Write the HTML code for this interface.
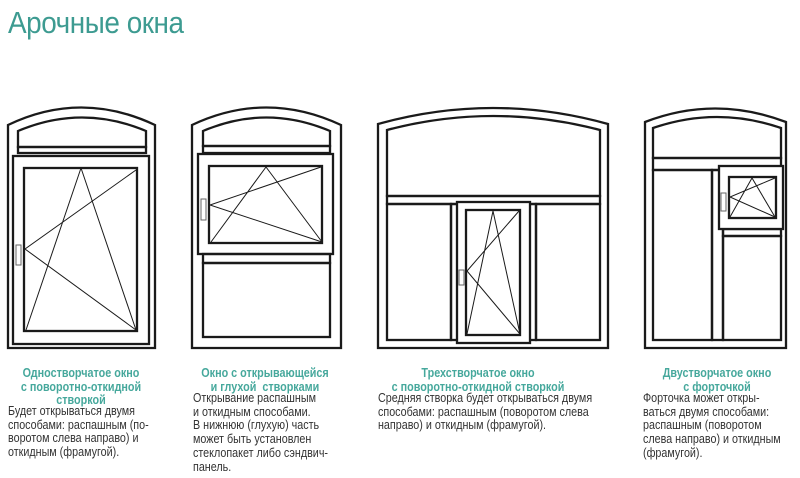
<!DOCTYPE html>
<html><head><meta charset="utf-8"><style>
html,body{margin:0;padding:0;background:#fff;width:800px;height:478px;overflow:hidden;position:relative}
.t{position:absolute;font-family:"Liberation Sans",sans-serif;white-space:nowrap}
.title{left:8px;top:5px;font-size:31px;color:#3d9b91;letter-spacing:-0.5px;transform:scaleX(0.9);transform-origin:0 0}
.h{color:#46a89c;font-weight:bold;font-size:13px;line-height:13.5px;text-align:center;transform:scaleX(0.83);transform-origin:50% 0}
.b{color:#333;font-size:12.5px;line-height:13.7px;transform:scaleX(0.86);transform-origin:0 0}
svg{position:absolute;left:0;top:0}
</style></head><body>
<div class="t title">Арочные окна</div>
<svg width="800" height="478" viewBox="0 0 800 478" fill="none" stroke="#1a1a1a" stroke-width="2.3">
<!-- Window 1 -->
<path d="M8 348 V125 Q81 90 155 125 V348 Z"/>
<path d="M18 147 V131 Q82 104 146 131 V147 Z"/>
<rect x="18" y="147" width="128" height="6"/>
<rect x="13" y="156" width="136" height="188"/>
<rect x="24" y="168" width="113" height="163"/>
<rect x="16" y="245" width="5" height="20" stroke-width="1" stroke="#666"/>
<g stroke-width="1">
<path d="M81 168 L26 330 M81 168 L136 330 M136 170 L25 249 L136 330"/>
</g>
<!-- Window 2 -->
<path d="M192 348 V125 Q266 90 341 125 V348 Z"/>
<path d="M203 146 V131 Q266 104 330 131 V146 Z"/>
<rect x="203" y="146" width="127" height="7"/>
<rect x="198" y="154" width="135" height="100"/>
<rect x="209" y="166" width="113" height="77"/>
<rect x="201" y="199" width="5" height="21" stroke-width="1" stroke="#666"/>
<g stroke-width="1"><path d="M266 167 L211 242 M266 167 L322 242 M321 167 L210 205 L322 242"/></g>
<rect x="203" y="254" width="127" height="9"/>
<rect x="203" y="263" width="127" height="74"/>
<!-- Window 3 -->
<path d="M378 348 V124 Q493 92 608 124 V348 Z"/>
<path d="M387 196 V130 Q493 102 600 130 V196 Z"/>
<rect x="387" y="196" width="213" height="8"/>
<rect x="387" y="204" width="64" height="136"/>
<rect x="536" y="204" width="64" height="136"/>
<rect x="451" y="204" width="85" height="136"/>
<rect x="457" y="202" width="73" height="141" fill="#fff"/>
<rect x="466" y="210" width="54" height="125"/>
<rect x="459" y="270" width="5" height="15" stroke-width="1" stroke="#666"/>
<g stroke-width="1"><path d="M493 211 L467 334 M493 211 L520 334 M519 211 L467 271 L520 334"/></g>
<!-- Window 4 -->
<path d="M645 348 V122 Q715 95 786 122 V348 Z"/>
<path d="M653 158 V128 Q717 106 781 128 V158 Z"/>
<rect x="653" y="158" width="128" height="12"/>
<rect x="653" y="170" width="59" height="170"/>
<rect x="712" y="170" width="11" height="170"/>
<rect x="723" y="229" width="58" height="7"/>
<rect x="723" y="236" width="58" height="104"/>
<rect x="719" y="166" width="64" height="63" fill="#fff"/>
<rect x="729" y="177" width="47" height="41"/>
<rect x="721" y="193" width="5" height="18" stroke-width="1" stroke="#666"/>
<g stroke-width="1"><path d="M752 178 L730 217 M752 178 L775 217 M775 178 L730 197 L775 217"/></g>
</svg>
<div class="t h" style="left:-9px;top:366px;width:180px">Одностворчатое окно<br>с поворотно-откидной<br>створкой</div>
<div class="t b" style="left:8px;top:405px">Будет открываться двумя<br>способами: распашным (по-<br>воротом слева направо) и<br>откидным (фрамугой).</div>
<div class="t h" style="left:170px;top:366px;width:190px">Окно с открывающейся<br>и глухой&nbsp; створками</div>
<div class="t b" style="left:193px;top:392px">Открывание распашным<br>и откидным способами.<br>В нижнюю (глухую) часть<br>может быть установлен<br>стеклопакет либо сэндвич-<br>панель.</div>
<div class="t h" style="left:373px;top:366px;width:210px">Трехстворчатое окно<br>с поворотно-откидной створкой</div>
<div class="t b" style="left:378px;top:392px">Средняя створка будет открываться двумя<br>способами: распашным (поворотом слева<br>направо) и откидным (фрамугой).</div>
<div class="t h" style="left:637px;top:366px;width:160px">Двустворчатое окно<br>с форточкой</div>
<div class="t b" style="left:643px;top:392px">Форточка может откры-<br>ваться двумя способами:<br>распашным (поворотом<br>слева направо) и откидным<br>(фрамугой).</div>
</body></html>
